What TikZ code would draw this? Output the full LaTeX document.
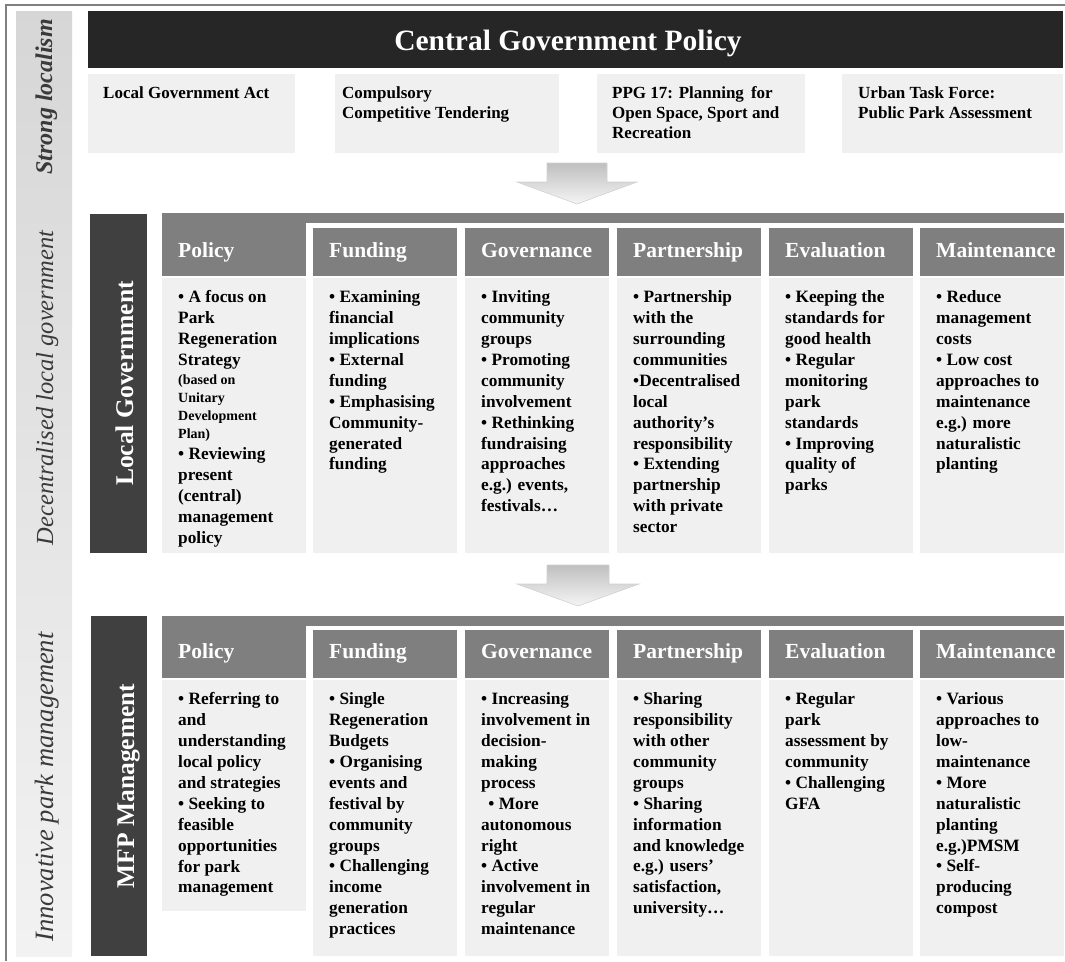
\documentclass[tikz,border=0pt]{standalone}
\usepackage{fontspec}
\setmainfont{Liberation Serif}
\definecolor{hdrdark}{HTML}{262626}
\definecolor{boxlight}{HTML}{F0F0F0}
\definecolor{colhead}{HTML}{7F7F7F}
\definecolor{sidedark}{HTML}{404040}
\definecolor{framegray}{HTML}{808080}
\definecolor{sidetxt}{HTML}{3A3A3A}
\tikzset{
  bodytxt/.style={font=\bfseries\fontsize{17.3}{20.9}\selectfont, align=left, inner sep=0pt, text=black, anchor=north west},
  smalltxt/.style={font=\bfseries\fontsize{14}{18}\selectfont, align=left, inner sep=0pt, text=black, anchor=north west},
  toptxt/.style={font=\bfseries\fontsize{17}{20}\selectfont, align=left, inner sep=0pt, text=black, anchor=north west},
  headtxt/.style={font=\bfseries\fontsize{21.5}{24}\selectfont, inner sep=0pt, text=white, anchor=base west},
  sidelabel/.style={font=\bfseries\fontsize{25.5}{28}\selectfont, inner sep=0pt, text=white, anchor=base, rotate=90},
  phaselabel/.style={font=\itshape\fontsize{24.5}{28}\selectfont, inner sep=0pt, text=sidetxt, anchor=base, rotate=90},
  flowarrow/.style={top color=black!25, bottom color=black!4, draw=black!18, line width=0.6pt}
}
\begin{document}
\begin{tikzpicture}[x=1pt,y=-1pt]
\useasboundingbox (0,0) rectangle (1065,961);
\fill[white] (0,0) rectangle (1065,961);
% frame
\draw[framegray, line width=1.2pt] (6,961) -- (6,5) -- (1065,5);
% left phase bar
\shade[top color=black!16, bottom color=black!5] (16,11) rectangle (72,956);
\node[phaselabel, font=\bfseries\itshape\fontsize{24}{28}\selectfont] (ph1) at (52,97) {Strong localism};
\node[phaselabel] (ph2) at (53,388) {Decentralised local government};
\node[phaselabel, font=\itshape\fontsize{26.5}{28}\selectfont] (ph3) at (53,787) {Innovative park management};

% ---- central government
\fill[hdrdark] (88,11) rectangle (1063,68);
\node[font=\bfseries\fontsize{29.5}{32}\selectfont, text=white, anchor=base, inner sep=0pt] (title) at (568,50) {Central Government Policy};
\fill[boxlight] (88,74) rectangle (295,153);
\fill[boxlight] (335,74) rectangle (559,153);
\fill[boxlight] (597,74) rectangle (805,153);
\fill[boxlight] (842,74) rectangle (1063,153);
\node[toptxt] (cg1) at (103,86.5) {Local Government Act};
\node[toptxt] (cg2) at (342,86.5) {Compulsory\\Competitive Tendering};
\node[toptxt] (cg3) at (612,86.5) {PPG 17: Planning\, for\\Open Space, Sport and\\Recreation};
\node[toptxt] (cg4) at (858,86.5) {Urban Task Force:\\Public Park Assessment};

% arrow 1
\shadedraw[flowarrow] (547,163) -- (607,163) -- (607,182) -- (637,182) -- (577,204) -- (517,182) -- (547,182) -- cycle;

% ---- local government
\fill[sidedark] (90,214) rectangle (147,553);
\node[sidelabel] (lg) at (133,383.5) {Local Government};
\fill[colhead] (162,213) rectangle (1064,223);
\fill[colhead] (162,213) rectangle (306,276);
\foreach \x in {313,465,617,769,920} {
  \fill[colhead] (\x,228) rectangle ++(144,48);
}
\foreach \x in {162,313,465,617,769,920} {
  \fill[boxlight] (\x,278) rectangle ++(144,275);
}
\node[headtxt] (lgh1) at (178,257) {Policy};
\node[headtxt] (lgh2) at (329,257) {Funding};
\node[headtxt] (lgh3) at (481,257) {Governance};
\node[headtxt] (lgh4) at (633,257) {Partnership};
\node[headtxt] (lgh5) at (785,257) {Evaluation};
\node[headtxt] (lgh6) at (936,257) {Maintenance};

\node[bodytxt] (lgb1a) at (178,290.5) {• A focus on\\Park\\Regeneration\\Strategy};
\node[smalltxt] (lgb1b) at (178,375) {(based on\\Unitary\\Development\\Plan)};
\node[bodytxt] (lgb1c) at (178,447.5) {• Reviewing\\present\\(central)\\management\\policy};
\node[bodytxt] (lgb2) at (329,290.5) {• Examining\\financial\\implications\\• External\\funding\\• Emphasising\\Community-\\generated\\funding};
\node[bodytxt] (lgb3) at (481,290.5) {• Inviting\\community\\groups\\• Promoting\\community\\involvement\\• Rethinking\\fundraising\\approaches\\e.g.) events,\\festivals…};
\node[bodytxt] (lgb4) at (633,290.5) {• Partnership\\with the\\surrounding\\communities\\•Decentralised\\local\\authority’s\\responsibility\\• Extending\\partnership\\with private\\sector};
\node[bodytxt] (lgb5) at (785,290.5) {• Keeping the\\standards for\\good health\\• Regular\\monitoring\\park\\standards\\• Improving\\quality of\\parks};
\node[bodytxt] (lgb6) at (936,290.5) {• Reduce\\management\\costs\\• Low cost\\approaches to\\maintenance\\e.g.) more\\naturalistic\\planting};

% arrow 2
\shadedraw[flowarrow] (547,565) -- (609,565) -- (609,584) -- (639,584) -- (578,606) -- (517,584) -- (547,584) -- cycle;

% ---- MFP management
\fill[sidedark] (91,616) rectangle (147,956);
\node[sidelabel] (mfp) at (134,786) {MFP Management};
\fill[colhead] (162,616) rectangle (1064,626);
\fill[colhead] (162,616) rectangle (306,678);
\foreach \x in {313,465,617,769,920} {
  \fill[colhead] (\x,630) rectangle ++(144,48);
}
\fill[boxlight] (162,680) rectangle (306,911);
\foreach \x in {313,465,617,769,920} {
  \fill[boxlight] (\x,680) rectangle ++(144,276);
}
\node[headtxt] (mh1) at (178,658) {Policy};
\node[headtxt] (mh2) at (329,658) {Funding};
\node[headtxt] (mh3) at (481,658) {Governance};
\node[headtxt] (mh4) at (633,658) {Partnership};
\node[headtxt] (mh5) at (785,658) {Evaluation};
\node[headtxt] (mh6) at (936,658) {Maintenance};

\node[bodytxt] (mb1) at (178,692.5) {• Referring to\\and\\understanding\\local policy\\and strategies\\• Seeking to\\feasible\\opportunities\\for park\\management};
\node[bodytxt] (mb2) at (329,692.5) {• Single\\Regeneration\\Budgets\\• Organising\\events and\\festival by\\community\\groups\\• Challenging\\income\\generation\\practices};
\node[bodytxt] (mb3) at (481,692.5) {• Increasing\\involvement in\\decision-\\making\\process\\\ \,• More\\autonomous\\right\\• Active\\involvement in\\regular\\maintenance};
\node[bodytxt] (mb4) at (633,692.5) {• Sharing\\responsibility\\with other\\community\\groups\\• Sharing\\information\\and knowledge\\e.g.) users’\\satisfaction,\\university…};
\node[bodytxt] (mb5) at (785,692.5) {• Regular\\park\\assessment by\\community\\• Challenging\\GFA};
\node[bodytxt] (mb6) at (936,692.5) {• Various\\approaches to\\low-\\maintenance\\• More\\naturalistic\\planting\\e.g.)PMSM\\• Self-\\producing\\compost};
\end{tikzpicture}
\end{document}
